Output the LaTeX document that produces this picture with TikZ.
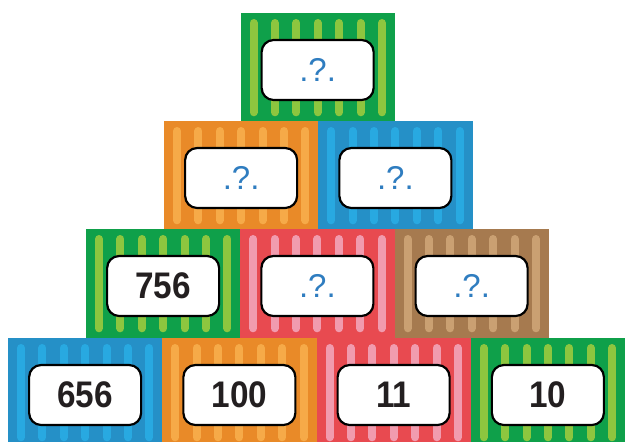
\documentclass[tikz,border=0pt]{standalone}
\usepackage{fontspec}
\usepackage{graphicx}
\setmainfont{Liberation Sans}
\definecolor{gbox}{HTML}{0FA04A}
\definecolor{gstr}{HTML}{8DC63F}
\definecolor{obox}{HTML}{E98A28}
\definecolor{ostr}{HTML}{F6AA48}
\definecolor{bbox}{HTML}{2590C7}
\definecolor{bstr}{HTML}{28A9E1}
\definecolor{rbox}{HTML}{E84A50}
\definecolor{rstr}{HTML}{F19BAE}
\definecolor{nbox}{HTML}{A67A4F}
\definecolor{nstr}{HTML}{CAA072}
\definecolor{qcol}{HTML}{2F7DC0}
\definecolor{numcol}{HTML}{231F20}
\tikzset{
  brickbox/.style={rectangle, minimum width=154.25pt, minimum height=108.3pt, inner sep=0pt, draw=none, anchor=north west},
  labelbox/.style={draw=black, line width=2.2pt, fill=white, rounded corners=12pt, minimum width=112pt, minimum height=60pt, inner sep=0pt},
  stripeline/.style={line width=8pt, line cap=round},
  numtxt/.style={font=\fontsize{37}{37}\selectfont\bfseries, text=numcol},
  qtxt/.style={font=\fontsize{33}{33}\selectfont, text=qcol},
}
\newcommand{\mybrick}[7]{%
  \node[brickbox, fill=#4] (#1b) at (#2,#3) {};
  \foreach \k in {0,...,6}
    \draw[stripeline, draw=#5] ({#2+13+21.4*\k},{#3+10}) -- ({#2+13+21.4*\k},{#3+99.3});
  \node[labelbox, #6] (#1) at ({#2+77.125},{#3+57}) {#7};
}
\newcommand{\qm}{.?.}
\newcommand{\nm}[1]{\scalebox{0.9}[1]{#1}}
\begin{document}
\begin{tikzpicture}[x=1pt,y=-1pt]
\useasboundingbox (0,0) rectangle (625,442);
\clip (0,0) rectangle (625,442);
% row 1
\mybrick{a1}{240.5}{13}{gbox}{gstr}{qtxt}{\qm}
% row 2
\mybrick{b1}{164}{121}{obox}{ostr}{qtxt}{\qm}
\mybrick{b2}{318.25}{121}{bbox}{bstr}{qtxt}{\qm}
% row 3
\mybrick{c1}{86}{229}{gbox}{gstr}{numtxt}{\nm{756}}
\mybrick{c2}{240.25}{229}{rbox}{rstr}{qtxt}{\qm}
\mybrick{c3}{394.5}{229}{nbox}{nstr}{qtxt}{\qm}
% row 4
\mybrick{d1}{8}{338}{bbox}{bstr}{numtxt}{\nm{656}}
\mybrick{d2}{162.25}{338}{obox}{ostr}{numtxt}{\nm{100}}
\mybrick{d3}{316.5}{338}{rbox}{rstr}{numtxt}{\nm{11}}
\mybrick{d4}{470.75}{338}{gbox}{gstr}{numtxt}{\nm{10}}
\end{tikzpicture}
\end{document}
